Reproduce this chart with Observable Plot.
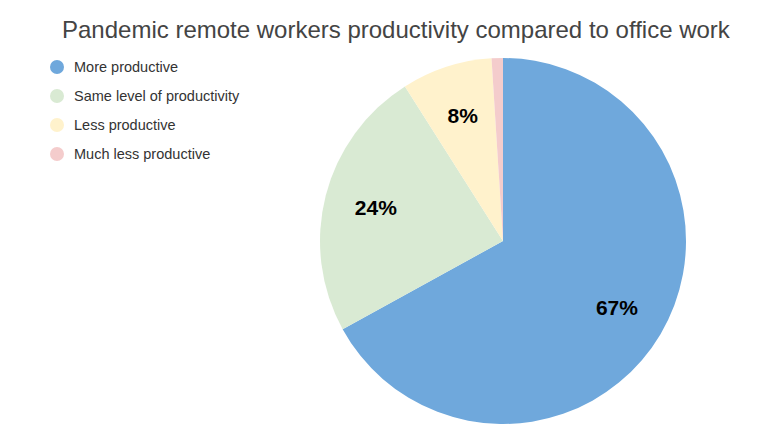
<!DOCTYPE html>
<html>
<head>
<meta charset="utf-8">
<script src="https://cdn.jsdelivr.net/npm/d3@7"></script>
<script src="https://cdn.jsdelivr.net/npm/@observablehq/plot@0.6"></script>
<style>
  html, body { margin: 0; padding: 0; background: #fff; }
  #wrap { position: relative; width: 765px; height: 445px; font-family: "Liberation Sans", Arial, sans-serif; }
  #title { position: absolute; left: 62px; top: 14px; white-space: nowrap; font-size: 24px; color: #444; height: 32px; line-height: 32px; }
  #legend { position: absolute; left: 50px; top: 52.5px; font-size: 14.5px; color: #333; z-index: 2; }
  .item { display: flex; align-items: center; height: 29px; }
  .sw { width: 14px; height: 14px; border-radius: 50%; margin-right: 10px; }
  #chart { position: absolute; left: 0; top: 50px; }
</style>
</head>
<body>
<div id="wrap">
  <div id="title"></div>
  <div id="legend"></div>
  <div id="chart"></div>
</div>
<script>
const title = "Pandemic remote workers productivity compared to office work";
const categories = ["More productive", "Same level of productivity", "Less productive", "Much less productive"];
const values = [67, 24, 8, 1];
const colors = ["#6fa8dc", "#d9ead3", "#fff2cc", "#f4cccc"];

document.getElementById("title").textContent = title;

const legend = document.getElementById("legend");
categories.forEach((c, i) => {
  const it = document.createElement("div");
  it.className = "item";
  const sw = document.createElement("div");
  sw.className = "sw";
  sw.style.background = colors[i];
  const t = document.createElement("span");
  t.textContent = c;
  it.appendChild(sw); it.appendChild(t);
  legend.appendChild(it);
});

const data = categories.map((c, i) => ({category: c, value: values[i], color: colors[i]}));
const arcs = d3.pie().sort(null).value(d => d.value)(data);
const labels = arcs.map(a => {
  const mid = (a.startAngle + a.endAngle) / 2;
  return {...a.data, mid, lx: 0.72 * Math.sin(mid), ly: 0.72 * Math.cos(mid)};
}).filter(d => d.value >= 5);

const cy = 191, cxPix = 503, R = 183;

function pieMark(index, scales) {
  const x = scales.x, y = scales.y;
  const cx = x(0), cyy = y(0), r = x(1) - x(0);
  const g = d3.create("svg:g").attr("transform", `translate(${cx},${cyy})`);
  const arcGen = d3.arc().innerRadius(0).outerRadius(r);
  g.selectAll("path").data(arcs).join("path")
    .attr("d", arcGen)
    .attr("fill", d => d.data.color);
  return g.node();
}

const chart = Plot.plot({
  width: 765,
  height: 395,
  margin: 0,
  x: {domain: [-1, 1], range: [cxPix - R, cxPix + R], axis: null},
  y: {domain: [-1, 1], range: [cy + R, cy - R], axis: null},
  style: {fontFamily: "'Liberation Sans', Arial, sans-serif", background: "transparent"},
  marks: [
    pieMark,
    Plot.text(labels, {
      x: "lx", y: "ly",
      text: d => `${d.value}%`,
      fontSize: 21, fontWeight: "bold", fill: "#000"
    })
  ]
});
document.getElementById("chart").appendChild(chart);
</script>
</body>
</html>
